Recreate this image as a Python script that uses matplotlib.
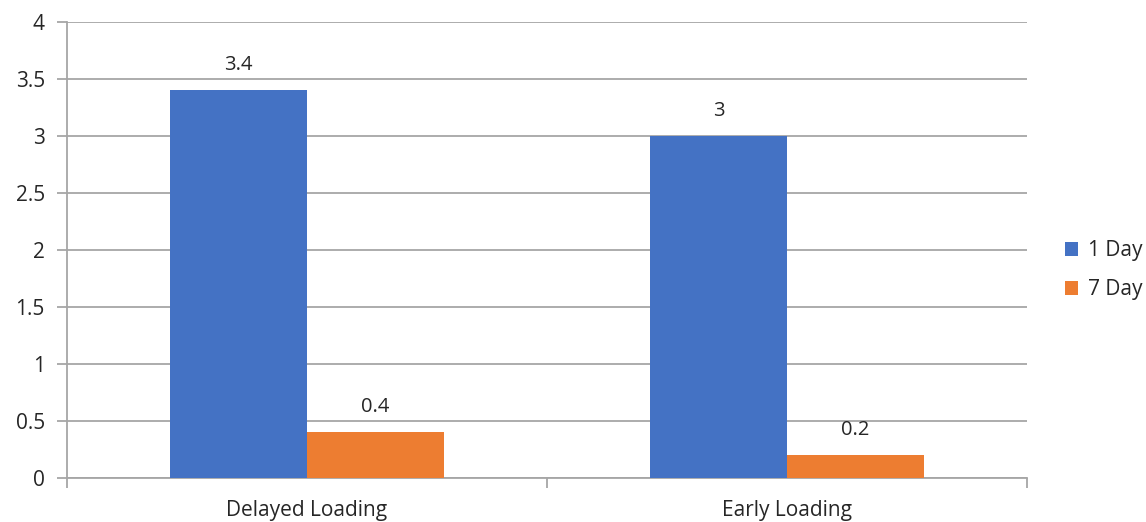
import matplotlib.pyplot as plt
import numpy as np

categories = ["Delayed Loading", "Early Loading"]
day1 = [3.4, 3.0]
day7 = [0.4, 0.2]
series_names = ["1 Day", "7 Day"]
colors = ["#4472C4", "#ED7D31"]
grid_color = "#A6A6A6"

plt.rcParams['font.family'] = ['Open Sans', 'DejaVu Sans']

fig = plt.figure(figsize=(11.46, 5.22), dpi=100)
ax = fig.add_axes([0.0585, 0.0843, 0.8375, 0.8737])

x = np.arange(len(categories))
w = 0.285
b1 = ax.bar(x - w / 2, day1, w, color=colors[0], label=series_names[0], zorder=3)
b2 = ax.bar(x + w / 2, day7, w, color=colors[1], label=series_names[1], zorder=3)

for bars in (b1, b2):
    for r in bars:
        v = r.get_height()
        ax.annotate(f"{v:g}", (r.get_x() + r.get_width() / 2, v),
                    xytext=(0, 11), textcoords="offset points",
                    ha="center", va="bottom", fontsize=14.5, color="#262626")

ax.set_xlim(-0.5, 1.5)
ax.set_ylim(0, 4)
ax.set_yticks(np.arange(0, 4.01, 0.5))
ax.set_yticklabels([f"{v:g}" for v in np.arange(0, 4.01, 0.5)])
ax.yaxis.grid(True, color=grid_color, linewidth=1.3, zorder=0)
ax.set_axisbelow(True)

ax.set_xticks(x)
ax.set_xticklabels(categories)
ax.set_xticks([-0.5, 0.5, 1.5], minor=True)
ax.tick_params(axis='x', which='major', length=0, pad=16, labelsize=15, labelcolor="#262626")
ax.tick_params(axis='x', which='minor', length=7, width=1.3, color=grid_color)
ax.tick_params(axis='y', length=7, width=1.3, color=grid_color, pad=9, labelsize=15, labelcolor="#262626")

for s in ["top", "right"]:
    ax.spines[s].set_visible(False)
for s in ["left", "bottom"]:
    ax.spines[s].set_color(grid_color)
    ax.spines[s].set_linewidth(1.3)

leg = ax.legend(loc="center left", bbox_to_anchor=(1.02, 0.456), frameon=False,
                fontsize=15, handlelength=0.65, handleheight=0.65, handletextpad=0.45,
                labelspacing=0.85, labelcolor="#262626")

fig.savefig("out.png", dpi=100)
